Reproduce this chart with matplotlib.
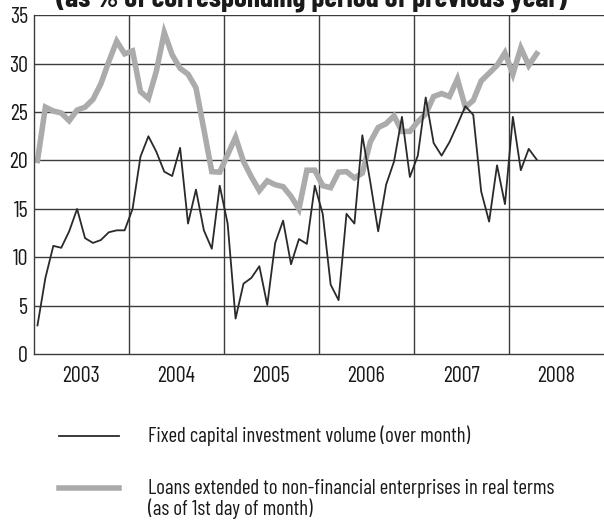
import numpy as np
import matplotlib

matplotlib.use('agg')

import matplotlib.pyplot as plt
from matplotlib.lines import Line2D

plt.rcParams['font.family'] = ['Barlow Condensed', 'DejaVu Sans']

# monthly series, Jan 2003 - Apr 2008
investment = [
    3.0, 7.9, 11.2, 11.0, 12.7, 15.0, 12.0, 11.5, 11.8, 12.6, 12.8, 12.8,
    15.0, 20.4, 22.5, 20.9, 18.85, 18.4, 21.3, 13.5, 17.0, 12.8, 10.9, 17.4,
    13.5, 3.7, 7.3, 7.9, 9.1, 5.1, 11.5, 13.8, 9.3, 11.9, 11.4, 17.4,
    14.5, 7.2, 5.6, 14.5, 13.5, 22.6, 17.8, 12.7, 17.5, 19.9, 24.5, 18.3,
    20.5, 26.5, 21.8, 20.5, 21.9, 23.7, 25.6, 24.7, 16.8, 13.7, 19.5, 15.5,
    24.5, 19.0, 21.2, 20.1,
]
loans = [
    20.0, 25.5, 25.1, 24.9, 24.1, 25.2, 25.5, 26.3, 27.9, 30.2, 32.3, 31.0,
    31.3, 27.1, 26.4, 29.2, 33.2, 30.9, 29.5, 28.9, 27.5, 23.2, 18.85, 18.8,
    20.6, 22.4, 19.9, 18.3, 16.9, 17.9, 17.5, 17.3, 16.3, 15.0, 19.0, 19.0,
    17.4, 17.2, 18.8, 18.85, 18.2, 18.7, 21.9, 23.4, 23.8, 24.6, 23.0, 23.0,
    24.0, 24.8, 26.6, 26.9, 26.6, 28.4, 25.5, 26.2, 28.2, 29.0, 29.8, 31.1,
    28.9, 31.6, 29.8, 31.0,
]
years = [2003, 2004, 2005, 2006, 2007, 2008]

t = 2003 + (np.arange(len(investment)) + 0.5) / 12

fig = plt.figure(figsize=(6.04, 5.21), dpi=100)
ax = fig.add_axes([0.0555, 0.3196, 0.9445, 0.6516])

grid_col = '#3c3c3c'
for v in range(5, 40, 5):
    ax.axhline(v, color=grid_col, lw=1.0, zorder=1)
for y in years[1:]:
    ax.axvline(y, color=grid_col, lw=1.0, zorder=1)

ax.plot(t, loans, color='#ababab', lw=4.0, solid_joinstyle='miter', zorder=2)
ax.plot(t, investment, color='#2a2a2a', lw=1.3, zorder=3)

ax.set_xlim(2003, 2009)
ax.set_ylim(0, 35)
ax.set_yticks(range(0, 40, 5))
ax.set_xticks([y + 0.5 for y in years])
ax.set_xticklabels([str(y) for y in years])
ax.tick_params(length=0, labelsize=16, colors='#1a1a1a')
ax.tick_params(axis='x', pad=8)
ax.tick_params(axis='y', pad=4)
for s in ['top', 'right']:
    ax.spines[s].set_visible(False)
for s in ['left', 'bottom']:
    ax.spines[s].set_color(grid_col)
    ax.spines[s].set_linewidth(1.0)

fig.text(0.516, 1 - 6 / 521, '(as % of corresponding period of previous year)',
         ha='center', va='baseline', fontsize=21, fontweight='bold', color='#1a1a1a')

# legend below the chart
fig.add_artist(Line2D([0.097, 0.197], [1 - 436 / 521] * 2, color='#2a2a2a', lw=1.3))
fig.add_artist(Line2D([0.097, 0.197], [1 - 488 / 521] * 2, color='#ababab', lw=4.0))
fig.text(0.245, 1 - 436 / 521, 'Fixed capital investment volume (over month)',
         va='center', fontsize=15, color='#1a1a1a')
fig.text(0.245, 1 - 499 / 521,
         'Loans extended to non-financial enterprises in real terms\n(as of 1st day of month)',
         va='center', fontsize=15, color='#1a1a1a', linespacing=1.0)

fig.savefig('out.png', dpi=100)
